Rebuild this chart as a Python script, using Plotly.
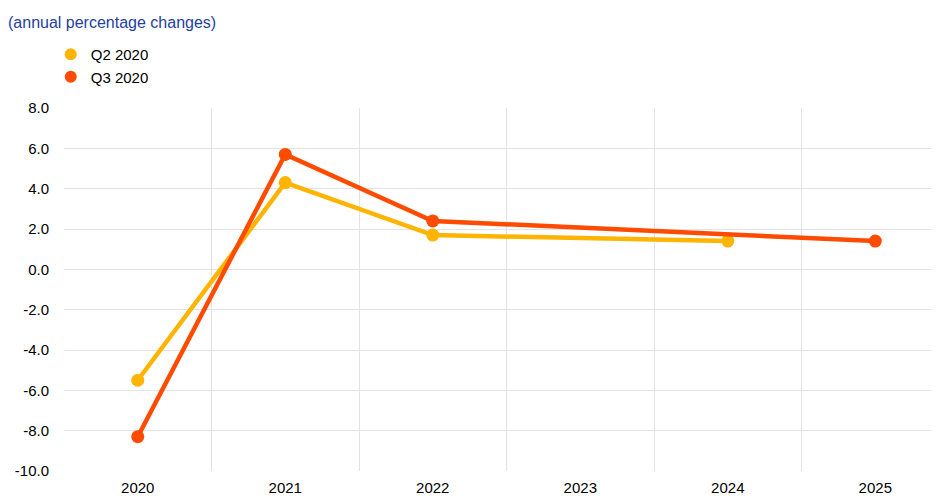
import plotly.graph_objects as go

years = ["2020", "2021", "2022", "2023", "2024", "2025"]
q2_2020 = [-5.5, 4.3, 1.7, None, 1.4, None]
q3_2020 = [-8.3, 5.7, 2.4, None, None, 1.4]
y_ticks = [8, 6, 4, 2, 0, -2, -4, -6, -8, -10]

series = [("Q2 2020", q2_2020, "#FFB400"), ("Q3 2020", q3_2020, "#FF4B00")]
xpos = list(range(len(years)))

fig = go.Figure()
for name, vals, col in series:
    fig.add_trace(go.Scatter(x=xpos, y=vals, mode="lines+markers", connectgaps=True,
                             line=dict(color=col, width=4.5),
                             marker=dict(color=col, size=13),
                             showlegend=False, hoverinfo="skip"))
for name, vals, col in series:
    fig.add_trace(go.Scatter(x=[None], y=[None], mode="markers", name=name,
                             marker=dict(color=col, size=13)))

fig.update_layout(
    width=939, height=496,
    margin=dict(l=56, r=0, t=100, b=33, autoexpand=False),
    plot_bgcolor="white", paper_bgcolor="white",
    font=dict(family="Arial, Liberation Sans, sans-serif", size=15, color="#000000"),
    title=dict(text="(annual percentage changes)", x=0.0, xanchor="left", xref="container",
               y=1-14/496, yanchor="middle", yref="container",
               font=dict(size=16, color="#1F3F9F")),
    legend=dict(x=-0.015, xanchor="left", y=1-30/496, yanchor="top", yref="container",
                bgcolor="rgba(0,0,0,0)", font=dict(size=15), itemsizing="constant",
                tracegroupgap=0),
    xaxis=dict(range=[-0.5, 5.486], tickvals=xpos, ticktext=years, showgrid=False,
               zeroline=False, showline=False, ticks="outside", ticklen=3,
               tickcolor="rgba(0,0,0,0)", automargin=False,
               minor=dict(tick0=-0.5, dtick=1, showgrid=True, gridcolor="#E3E3E3", gridwidth=1)),
    yaxis=dict(range=[-10, 8], tickvals=y_ticks, ticktext=[f"{v:.1f}" for v in y_ticks],
               showgrid=True, gridcolor="#E3E3E3", gridwidth=1, zeroline=False,
               showline=False, ticks="outside", ticklen=11, tickcolor="rgba(0,0,0,0)",
               automargin=False),
)
fig.write_html("out.html")
